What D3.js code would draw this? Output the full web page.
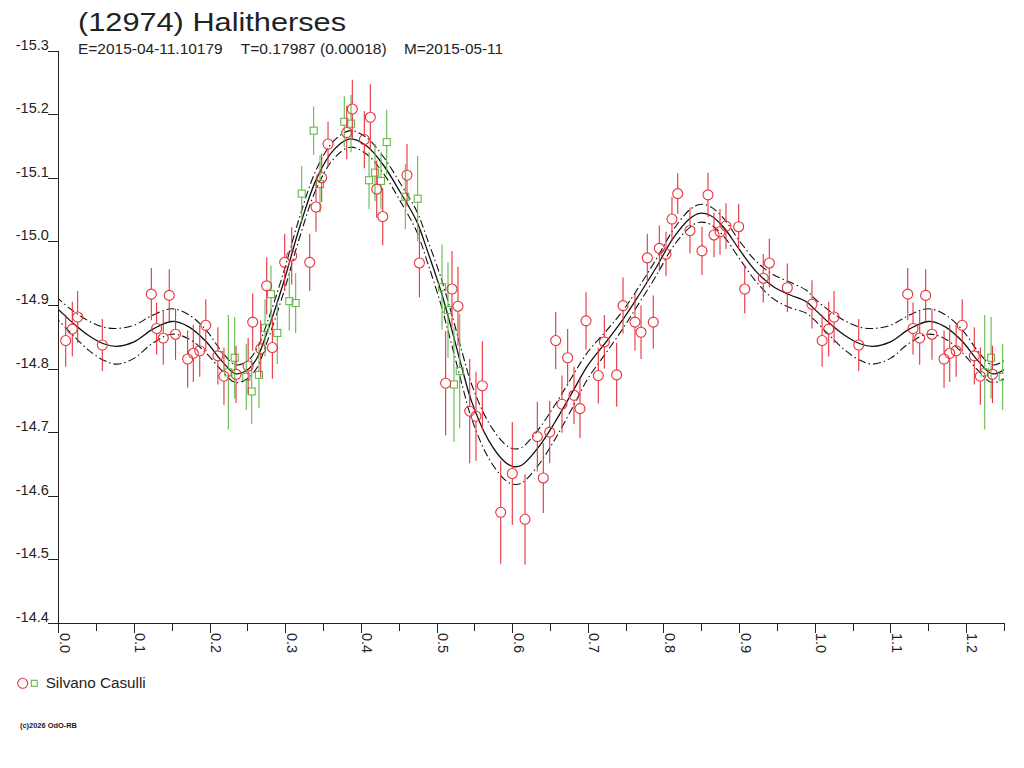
<!DOCTYPE html>
<html>
<head>
<meta charset="utf-8">
<script src="https://cdn.jsdelivr.net/npm/d3@7"></script>
<style>
    body { margin: 0; background: #fff; }
    svg { display: block; }
    text { font-family: "Liberation Sans", Arial, sans-serif; fill: #222; }
</style>
</head>
<body>
<svg class="LightCurve" width="1024" height="768"></svg>
<script>
// session 1 (red circles): phase, reduced magnitude, error
const redPhase = [0.0098, 0.0185, 0.0256, 0.0582, 0.1230, 0.1467, 0.1300, 0.1388, 0.1550, 0.1710,
    0.1785, 0.1870, 0.1950, 0.2110, 0.2190, 0.2350, 0.2510, 0.2570, 0.2676, 0.2755,
    0.2830, 0.2993, 0.3086, 0.3324, 0.3407, 0.3482, 0.3566, 0.3813, 0.3887, 0.4046,
    0.4125, 0.4210, 0.4289, 0.4610, 0.4774, 0.5121, 0.5205, 0.5284, 0.5439, 0.5522,
    0.5606, 0.5849, 0.6002, 0.6170, 0.6333, 0.6412, 0.6497, 0.6576, 0.6659, 0.6734,
    0.6818, 0.6897, 0.6977, 0.7139, 0.7219, 0.7382, 0.7466, 0.7624, 0.7704, 0.7787,
    0.7866, 0.7946, 0.8034, 0.8113, 0.8189, 0.8351, 0.8510, 0.8589, 0.8669, 0.8748,
    0.8827, 0.8995, 0.9075, 0.9320, 0.9400, 0.9638, 0.9964];
const redMag = [-14.844, -14.862, -14.881, -14.837, -14.917, -14.915, -14.863, -14.848, -14.854, -14.815,
    -14.824, -14.828, -14.868, -14.820, -14.788, -14.791, -14.804, -14.873, -14.831, -14.930,
    -14.833, -14.967, -14.977, -14.967, -15.054, -15.100, -15.153, -15.171, -15.208, -15.160,
    -15.195, -15.082, -15.039, -15.104, -14.966, -14.777, -14.925, -14.898, -14.733, -14.725,
    -14.773, -14.574, -14.635, -14.563, -14.693, -14.628, -14.700, -14.844, -14.744, -14.817,
    -14.758, -14.737, -14.875, -14.789, -14.842, -14.790, -14.899, -14.873, -14.857, -14.974,
    -14.873, -14.989, -14.980, -15.035, -15.075, -15.017, -14.985, -15.073, -15.010, -15.015,
    -15.024, -15.023, -14.925, -14.942, -14.966, -14.927, -14.901];
const redErr = [0.041, 0.043, 0.041, 0.041, 0.041, 0.041, 0.041, 0.042, 0.040, 0.045,
    0.045, 0.041, 0.041, 0.045, 0.045, 0.045, 0.044, 0.045, 0.045, 0.045,
    0.049, 0.045, 0.045, 0.045, 0.039, 0.038, 0.035, 0.042, 0.046, 0.045,
    0.052, 0.045, 0.045, 0.049, 0.054, 0.082, 0.060, 0.062, 0.082, 0.070,
    0.070, 0.081, 0.081, 0.071, 0.055, 0.055, 0.049, 0.045, 0.045, 0.045,
    0.045, 0.046, 0.045, 0.044, 0.042, 0.050, 0.044, 0.045, 0.042, 0.038,
    0.042, 0.036, 0.035, 0.035, 0.032, 0.036, 0.038, 0.035, 0.035, 0.036,
    0.036, 0.036, 0.038, 0.038, 0.038, 0.038, 0.038];

// session 2 (green squares)
const greenPhase = [0.2248, 0.2332, 0.2485, 0.2557, 0.2653, 0.2733, 0.2812, 0.2895, 0.3054, 0.3138,
    0.3218, 0.3376, 0.3460, 0.3781, 0.3870, 0.4108, 0.4187, 0.4266, 0.4342, 0.4588,
    0.4751, 0.5073, 0.5152, 0.5231, 0.5307];
const greenMag = [-14.794, -14.817, -14.787, -14.764, -14.790, -14.864, -14.917, -14.856, -14.906, -14.903,
    -15.075, -15.174, -15.090, -15.188, -15.185, -15.096, -15.108, -15.095, -15.156, -15.070,
    -15.067, -14.928, -14.892, -14.775, -14.796];
const greenErr = [0.090, 0.064, 0.052, 0.051, 0.052, 0.045, 0.045, 0.049, 0.046, 0.047,
    0.044, 0.038, 0.045, 0.040, 0.045, 0.045, 0.045, 0.045, 0.051, 0.051,
    0.067, 0.067, 0.075, 0.090, 0.090];

// fitted curve and its band
const fitPhase = [0.000, 0.018, 0.040, 0.060, 0.077, 0.100, 0.125, 0.150, 0.172, 0.195,
    0.216, 0.234, 0.250, 0.262, 0.2755, 0.2975, 0.3195, 0.3416, 0.3636, 0.3856,
    0.4077, 0.4297, 0.4517, 0.474, 0.488, 0.505, 0.520, 0.535, 0.5465, 0.5685,
    0.5906, 0.6015, 0.6126, 0.6346, 0.6567, 0.6787, 0.700, 0.725, 0.747, 0.769,
    0.791, 0.813, 0.835, 0.848, 0.8615, 0.879, 0.901, 0.923, 0.945, 0.967, 0.989];
const fitMag = [-14.893, -14.873, -14.852, -14.839, -14.835, -14.842, -14.862, -14.874, -14.866, -14.843,
    -14.812, -14.792, -14.798, -14.815, -14.855, -14.934, -15.024, -15.099, -15.143, -15.161,
    -15.150, -15.120, -15.078, -15.031, -14.985, -14.925, -14.862, -14.795, -14.748, -14.688,
    -14.653, -14.646, -14.648, -14.676, -14.716, -14.761, -14.805, -14.843, -14.878, -14.918,
    -14.960, -15.005, -15.036, -15.044, -15.041, -15.023, -14.986, -14.952, -14.929, -14.916, -14.905];
const fitSigma = [0.017, 0.019, 0.023, 0.026, 0.028, 0.026, 0.022, 0.020, 0.019, 0.018,
    0.015, 0.014, 0.014, 0.015, 0.015, 0.016, 0.016, 0.015, 0.014, 0.013,
    0.013, 0.013, 0.014, 0.016, 0.018, 0.021, 0.024, 0.026, 0.027, 0.028,
    0.028, 0.028, 0.028, 0.028, 0.027, 0.025, 0.021, 0.017, 0.014, 0.013,
    0.013, 0.013, 0.014, 0.014, 0.014, 0.014, 0.014, 0.016, 0.019, 0.020, 0.018];

const yTicks = [-15.3, -15.2, -15.1, -15.0, -14.9, -14.8, -14.7, -14.6, -14.5, -14.4];
const xMajor = [0.0, 0.1, 0.2, 0.3, 0.4, 0.5, 0.6, 0.7, 0.8, 0.9, 1.0, 1.1, 1.2];
const xMinor = [0.05, 0.15, 0.25, 0.35, 0.45, 0.55, 0.65, 0.75, 0.85, 0.95, 1.05, 1.15, 1.25];

const titleText = "(12974) Halitherses";
const infoTexts = ["E=2015-04-11.10179", "T=0.17987 (0.00018)", "M=2015-05-11"];
const observerName = "Silvano Casulli";
const creditText = "(c)2026 OdO-RB";

const RED = "#e8323c";
const GREEN = "#62b94a";

function wrapPoints(phases, mags, extra)
{
    // phase plot runs to 1.25, so the start of the cycle is drawn twice
    let points = [];
    for (let i = 0; i < phases.length; i++) {
        let p = { phase: phases[i], mag: mags[i], extra: extra[i] };
        points.push(p);
        if (phases[i] < 0.25) {
            points.push({ phase: phases[i] + 1, mag: mags[i], extra: extra[i] });
        }
    }
    return points;
}

function render()
{
    const svg = d3.select('.LightCurve');
    const left = 58.3, right = 1003.8, top = 50.5, bottom = 623;

    const xScale = d3.scaleLinear().domain([0, 1.25]).range([left, right]);
    const yScale = d3.scaleLinear().domain([-15.3, -14.4]).range([top, bottom]);

    // titles
    svg.append('text')
        .attr('x', 78).attr('y', 31)
        .attr('font-size', 25)
        .attr('textLength', 268).attr('lengthAdjust', 'spacingAndGlyphs')
        .text(titleText);

    const infoX = [78, 240.7, 404];
    const infoW = [144.7, 146, 99];
    infoTexts.forEach((t, i) => {
        svg.append('text')
            .attr('x', infoX[i]).attr('y', 54)
            .attr('font-size', 14)
            .attr('textLength', infoW[i]).attr('lengthAdjust', 'spacingAndGlyphs')
            .text(t);
    });

    // axes (plain hyphen for the minus sign, like the original)
    const fmt = d => d.toFixed(1);

    const yAxis = svg.append('g')
        .attr('transform', `translate(${left},0)`)
        .call(d3.axisLeft(yScale)
            .tickValues(yTicks)
            .tickSize(10)
            .tickSizeOuter(0)
            .tickFormat(fmt));
    yAxis.selectAll('text')
        .attr('x', -9.5).attr('dy', -1.5)
        .attr('font-size', 14.5)
        .attr('fill', '#222')
        .attr('font-family', '"Liberation Sans", Arial, sans-serif');

    const xAxis = svg.append('g')
        .attr('transform', `translate(0,${bottom})`)
        .call(d3.axisBottom(xScale)
            .tickValues(xMajor)
            .tickSize(10)
            .tickSizeOuter(0)
            .tickFormat(fmt));
    xAxis.selectAll('text')
        .attr('x', 0).attr('y', 0).attr('dy', null)
        .attr('transform', 'translate(1,10) rotate(90)')
        .attr('text-anchor', 'start')
        .attr('font-size', 14.5)
        .attr('fill', '#222')
        .attr('font-family', '"Liberation Sans", Arial, sans-serif');

    svg.append('g')
        .attr('transform', `translate(0,${bottom})`)
        .call(d3.axisBottom(xScale)
            .tickValues(xMinor)
            .tickSize(8)
            .tickSizeOuter(0)
            .tickFormat(''))
        .select('.domain').remove();

    svg.selectAll('.tick line, .domain')
        .attr('stroke', '#222')
        .attr('shape-rendering', 'crispEdges');

    // fitted curve
    svg.append('clipPath').attr('id', 'plotClip')
        .append('rect')
        .attr('x', left).attr('y', top)
        .attr('width', right - left).attr('height', bottom - top);

    let fit = [];
    for (let i = 0; i < fitPhase.length; i++) {
        if (fitPhase[i] > 0.9) fit.push({ phase: fitPhase[i] - 1, mag: fitMag[i], s: fitSigma[i] });
    }
    for (let i = 0; i < fitPhase.length; i++) {
        fit.push({ phase: fitPhase[i], mag: fitMag[i], s: fitSigma[i] });
    }
    for (let i = 0; i < fitPhase.length; i++) {
        if (fitPhase[i] < 0.3) fit.push({ phase: fitPhase[i] + 1, mag: fitMag[i], s: fitSigma[i] });
    }

    const curveHolder = svg.append('g').attr('clip-path', 'url(#plotClip)');

    const line = (offset) => d3.line()
        .curve(d3.curveCatmullRom.alpha(0.5))
        .x(d => xScale(d.phase))
        .y(d => yScale(d.mag + offset * d.s));

    curveHolder.append('path')
        .datum(fit)
        .attr('fill', 'none')
        .attr('stroke', '#111')
        .attr('stroke-width', 1.3)
        .attr('d', line(0));

    [-1, 1].forEach(o => {
        curveHolder.append('path')
            .datum(fit)
            .attr('fill', 'none')
            .attr('stroke', '#111')
            .attr('stroke-width', 1.1)
            .attr('stroke-dasharray', '8,3,1.5,3')
            .attr('d', line(o));
    });

    // observations
    const reds = wrapPoints(redPhase, redMag, redErr);
    const greens = wrapPoints(greenPhase, greenMag, greenErr);

    function drawSession(points, color, half, shape)
    {
        const g = svg.append('g').attr('clip-path', 'url(#plotClip)');
        g.selectAll('.barUp')
            .data(points).enter()
            .append('line')
            .attr('x1', d => xScale(d.phase)).attr('x2', d => xScale(d.phase))
            .attr('y1', d => yScale(d.mag - d.extra))
            .attr('y2', d => yScale(d.mag) - half)
            .attr('stroke', color).attr('stroke-width', 1.1);
        g.selectAll('.barDown')
            .data(points).enter()
            .append('line')
            .attr('x1', d => xScale(d.phase)).attr('x2', d => xScale(d.phase))
            .attr('y1', d => yScale(d.mag) + half)
            .attr('y2', d => yScale(d.mag + d.extra))
            .attr('stroke', color).attr('stroke-width', 1.1);
        if (shape === 'circle') {
            g.selectAll('circle')
                .data(points).enter()
                .append('circle')
                .attr('cx', d => xScale(d.phase))
                .attr('cy', d => yScale(d.mag))
                .attr('r', half)
                .attr('fill', 'none')
                .attr('stroke', color).attr('stroke-width', 1.1);
        } else {
            g.selectAll('rect')
                .data(points).enter()
                .append('rect')
                .attr('x', d => xScale(d.phase) - half)
                .attr('y', d => yScale(d.mag) - half)
                .attr('width', half * 2).attr('height', half * 2)
                .attr('fill', 'none')
                .attr('stroke', color).attr('stroke-width', 1.1);
        }
    }

    drawSession(greens, GREEN, 3.5, 'square');
    drawSession(reds, RED, 5, 'circle');

    // legend
    svg.append('circle')
        .attr('cx', 22.7).attr('cy', 683.3).attr('r', 5)
        .attr('fill', 'none').attr('stroke', RED).attr('stroke-width', 1.1);
    svg.append('rect')
        .attr('x', 31.3).attr('y', 680.3).attr('width', 6).attr('height', 6)
        .attr('fill', 'none').attr('stroke', GREEN).attr('stroke-width', 1.1);
    svg.append('text')
        .attr('x', 45.7).attr('y', 688)
        .attr('font-size', 14)
        .attr('textLength', 100).attr('lengthAdjust', 'spacingAndGlyphs')
        .text(observerName);

    svg.append('text')
        .attr('x', 20).attr('y', 728)
        .attr('font-size', 7)
        .attr('font-weight', 'bold')
        .attr('textLength', 57).attr('lengthAdjust', 'spacingAndGlyphs')
        .text(creditText);
}

render();
</script>
</body>
</html>
